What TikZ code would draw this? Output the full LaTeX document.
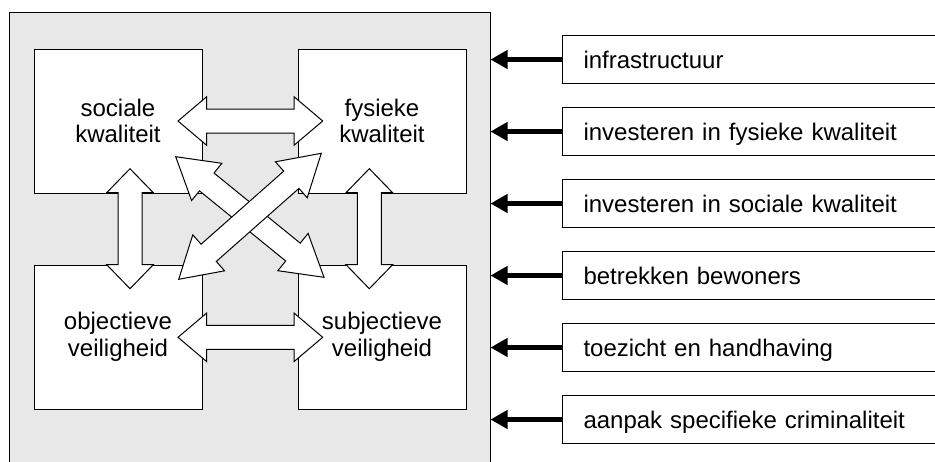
\documentclass[tikz,border=0pt]{standalone}
\usepackage{fontspec}
\setmainfont{Liberation Sans}
\usetikzlibrary{arrows.meta,calc}
\definecolor{bggray}{RGB}{232,232,232}
% two-headed block arrow from #1 to #2: head length #3, head half width #4, shaft half width #5
\newcommand{\blockarrow}[5]{%
  \draw[barrow] (#1) -- ($(#1)!#3!(#2)!#4!90:(#2)$) -- ($(#1)!#3!(#2)!#5!90:(#2)$)
    -- ($(#2)!#3!(#1)!#5!-90:(#1)$) -- ($(#2)!#3!(#1)!#4!-90:(#1)$) -- (#2)
    -- ($(#2)!#3!(#1)!#4!90:(#1)$) -- ($(#2)!#3!(#1)!#5!90:(#1)$)
    -- ($(#1)!#3!(#2)!#5!-90:(#2)$) -- ($(#1)!#3!(#2)!#4!-90:(#2)$) -- cycle;}

\begin{document}
\begin{tikzpicture}[
  x=1pt, y=-1pt, line width=1pt,
  font=\fontsize{24}{26.7}\selectfont,
  frame/.style={draw, fill=bggray, minimum width=481pt, minimum height=468pt, inner sep=0pt},
  quad/.style={draw, fill=white, minimum width=168pt, minimum height=144pt, align=center, inner sep=0pt},
  meas/.style={draw, fill=white, anchor=west, text width=358pt, align=left, inner xsep=21pt,
    inner ysep=0pt, minimum height=48pt, text height=18pt, text depth=0pt},
  feed/.style={-{Triangle[length=17pt, width=18pt]}, line width=5pt},
  barrow/.style={draw, fill=white, line join=miter}]
\useasboundingbox (0,0) rectangle (935,461);
\clip (0,0) rectangle (935,461);
\node[frame] (frame) at (249.5,246) {};
\node[quad] (soc) at (118,121) {sociale\\kwaliteit};
\node[quad] (fys) at (382,121) {fysieke\\kwaliteit};
\node[quad] (obj) at (118,337) {objectieve\\veiligheid};
\node[quad] (sub) at (382,337) {subjectieve\\veiligheid};
\coordinate (h1a) at (178,121);
\coordinate (h1b) at (322.7,121);
\coordinate (h2a) at (178,337.3);
\coordinate (h2b) at (322.7,337.3);
\coordinate (v1a) at (130,168.7);
\coordinate (v1b) at (130,288.7);
\coordinate (v2a) at (369.3,168.7);
\coordinate (v2b) at (369.3,288.7);
\coordinate (d1a) at (175.7,156.7);
\coordinate (d1b) at (324,277.3);
\coordinate (d2a) at (321.3,153.3);
\coordinate (d2b) at (178.7,279.3);
\blockarrow{h1a}{h1b}{28.7pt}{24.3pt}{12pt}
\blockarrow{h2a}{h2b}{28.7pt}{24.3pt}{12pt}
\blockarrow{v1a}{v1b}{24pt}{23.3pt}{12pt}
\blockarrow{v2a}{v2b}{24pt}{23.3pt}{12pt}
\blockarrow{d1a}{d1b}{40pt}{24pt}{11.5pt}
\blockarrow{d2a}{d2b}{40pt}{24pt}{11.5pt}
\node[meas] (infra) at (562,59.5) {infrastructuur};
\node[meas] (fysinv) at (562,131.5) {investeren in fysieke kwaliteit};
\node[meas] (socinv) at (562,203.5) {investeren in sociale kwaliteit};
\node[meas] (bewon) at (562,275.5) {betrekken bewoners};
\node[meas] (toez) at (562,347.5) {toezicht en handhaving};
\node[meas] (crim) at (562,419.5) {aanpak specifieke criminaliteit};
\draw[feed] (infra.west) -- (infra.west -| frame.east);
\draw[feed] (fysinv.west) -- (fysinv.west -| frame.east);
\draw[feed] (socinv.west) -- (socinv.west -| frame.east);
\draw[feed] (bewon.west) -- (bewon.west -| frame.east);
\draw[feed] (toez.west) -- (toez.west -| frame.east);
\draw[feed] (crim.west) -- (crim.west -| frame.east);
\end{tikzpicture}
\end{document}
